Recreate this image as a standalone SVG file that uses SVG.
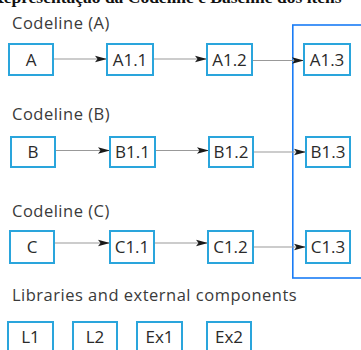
<svg xmlns="http://www.w3.org/2000/svg" width="361" height="350" viewBox="0 0 361 350">
  <style>
    .box { fill: #ffffff; stroke: #2aa5dc; stroke-width: 2; }
    .lbl { font-family: "Open Sans", "Noto Sans", sans-serif; font-size: 17px; fill: #2a2a2a; text-anchor: middle; }
    .head { font-family: "Open Sans", "Noto Sans", sans-serif; font-size: 16.5px; letter-spacing: 0.5px; fill: #3a3a3a; }
    .edge { stroke: #999999; stroke-width: 1.2; fill: none; marker-end: url(#arrow); }
    .frame { fill: none; stroke: #1a7cf5; stroke-width: 1.6; }
    .cap { font-family: "Liberation Serif", serif; font-size: 17.5px; font-weight: bold; fill: #111111; }
  </style>
  <defs>
    <marker id="arrow" viewBox="0 0 12 8" refX="12" refY="4" markerWidth="12" markerHeight="8" markerUnits="userSpaceOnUse" orient="auto">
      <path d="M0,0.8 L12,4 L0,7.2 L2.5,4 Z" fill="#1a1a1a"/>
    </marker>
  </defs>

  <rect width="361" height="350" fill="#ffffff"/>

  <!-- caption above the figure, mostly above the top edge -->
  <text class="cap" x="-9" y="2.5">Representação da Codeline e Baseline dos itens</text>

  <!-- baseline frame around the third column -->
  <rect class="frame" x="292.8" y="25" width="90" height="253"/>

  <text class="head" x="12" y="29">Codeline (A)</text>
  <text class="head" x="12" y="120">Codeline (B)</text>
  <text class="head" x="12" y="217">Codeline (C)</text>
  <text class="head" x="12" y="301">Libraries and external components</text>

  <g id="connectors">
    <line class="edge" x1="53" y1="59" x2="107" y2="59"/>
    <line class="edge" x1="153" y1="59" x2="207" y2="59"/>
    <line class="edge" x1="252" y1="60.5" x2="304" y2="60.5"/>
    <line class="edge" x1="55" y1="150.5" x2="110" y2="150.5"/>
    <line class="edge" x1="155" y1="150.5" x2="209" y2="150.5"/>
    <line class="edge" x1="253" y1="152" x2="306" y2="152"/>
    <line class="edge" x1="54" y1="243" x2="110" y2="243"/>
    <line class="edge" x1="154" y1="243" x2="208" y2="243"/>
    <line class="edge" x1="253" y1="247" x2="306" y2="247"/>
  </g>

  <g id="A"><rect class="box" x="9" y="44" width="44" height="31"/><text class="lbl" x="31" y="65.5">A</text></g>
  <g id="A1.1"><rect class="box" x="107" y="44" width="46" height="31"/><text class="lbl" x="130" y="65.5">A1.1</text></g>
  <g id="A1.2"><rect class="box" x="207" y="44" width="45" height="31"/><text class="lbl" x="229.5" y="65.5">A1.2</text></g>
  <g id="A1.3"><rect class="box" x="304" y="44" width="46" height="31"/><text class="lbl" x="327" y="65.5">A1.3</text></g>

  <g id="B"><rect class="box" x="11" y="137" width="44" height="30"/><text class="lbl" x="33" y="158">B</text></g>
  <g id="B1.1"><rect class="box" x="110" y="137" width="45" height="30"/><text class="lbl" x="132.5" y="158">B1.1</text></g>
  <g id="B1.2"><rect class="box" x="209" y="137" width="44" height="30"/><text class="lbl" x="231" y="158">B1.2</text></g>
  <g id="B1.3"><rect class="box" x="306" y="137" width="44" height="30"/><text class="lbl" x="328" y="158">B1.3</text></g>

  <g id="C"><rect class="box" x="10" y="231" width="44" height="32"/><text class="lbl" x="32" y="253">C</text></g>
  <g id="C1.1"><rect class="box" x="110" y="231" width="44" height="32"/><text class="lbl" x="132" y="253">C1.1</text></g>
  <g id="C1.2"><rect class="box" x="208" y="231" width="45" height="32"/><text class="lbl" x="230.5" y="253">C1.2</text></g>
  <g id="C1.3"><rect class="box" x="306" y="231" width="44" height="32"/><text class="lbl" x="328" y="253">C1.3</text></g>

  <g id="L1"><rect class="box" x="8" y="322" width="45" height="40"/><text class="lbl" x="30.5" y="343">L1</text></g>
  <g id="L2"><rect class="box" x="73" y="322" width="44" height="40"/><text class="lbl" x="95" y="343">L2</text></g>
  <g id="Ex1"><rect class="box" x="137" y="322" width="45" height="40"/><text class="lbl" x="159.5" y="343">Ex1</text></g>
  <g id="Ex2"><rect class="box" x="207" y="322" width="44" height="40"/><text class="lbl" x="229" y="343">Ex2</text></g>
</svg>
